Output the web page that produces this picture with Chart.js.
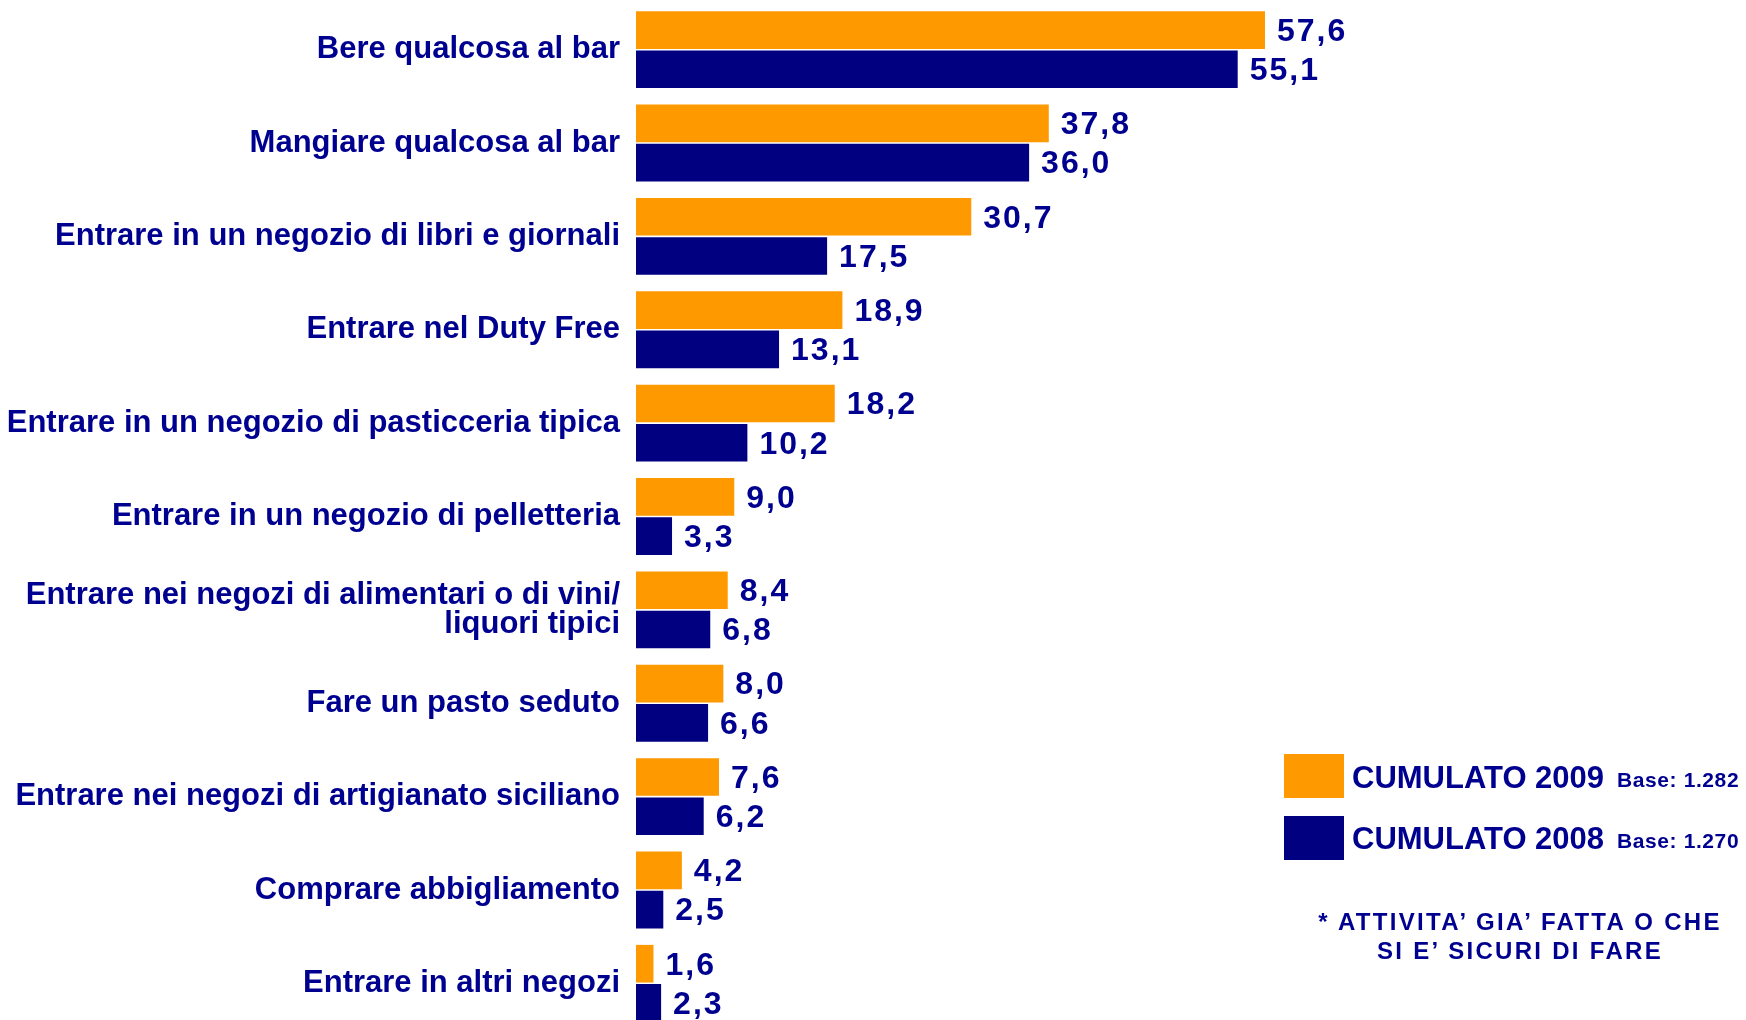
<!DOCTYPE html>
<html>
<head>
<meta charset="utf-8">
<script src="https://cdn.jsdelivr.net/npm/chart.js@4"></script>
<style>
  html, body { margin: 0; padding: 0; background: #fff; overflow: hidden; }
  #wrap { position: relative; width: 1746px; height: 1035px; }
  .txt { position: absolute; color: #000090; font-family: "Liberation Sans", Arial, sans-serif; font-weight: bold; white-space: nowrap; }
  .sw { position: absolute; width: 60px; height: 44px; }
</style>
</head>
<body>
<div id="wrap">
  <canvas id="chart"></canvas>
  <div class="sw" style="left:1284px; top:754px; background:#FF9900;"></div>
  <div class="sw" style="left:1284px; top:816px; background:#000080;"></div>
  <div class="txt" style="left:1352px; top:760px; font-size:31px;">CUMULATO 2009</div>
  <div class="txt" style="left:1617px; top:768px; font-size:21px; letter-spacing:0.6px;">Base: 1.282</div>
  <div class="txt" style="left:1352px; top:821px; font-size:31px;">CUMULATO 2008</div>
  <div class="txt" style="left:1617px; top:829px; font-size:21px; letter-spacing:0.6px;">Base: 1.270</div>
  <div class="txt" style="left:1300px; width:440px; top:907px; font-size:24px; letter-spacing:2.3px; text-align:center; line-height:29px;">* ATTIVITA&#8217; GIA&#8217; FATTA O CHE<br>SI E&#8217; SICURI DI FARE</div>
</div>
<script>
const categories = [
  'Bere qualcosa al bar',
  'Mangiare qualcosa al bar',
  'Entrare in un negozio di libri e giornali',
  'Entrare nel Duty Free',
  'Entrare in un negozio di pasticceria tipica',
  'Entrare in un negozio di pelletteria',
  ['Entrare nei negozi di alimentari o di vini/', 'liquori tipici'],
  'Fare un pasto seduto',
  'Entrare nei negozi di artigianato siciliano',
  'Comprare abbigliamento',
  'Entrare in altri negozi'
];
const values2009 = [57.6, 37.8, 30.7, 18.9, 18.2, 9.0, 8.4, 8.0, 7.6, 4.2, 1.6];
const values2008 = [55.1, 36.0, 17.5, 13.1, 10.2, 3.3, 6.8, 6.6, 6.2, 2.5, 2.3];

const textColor = '#000090';

// draws the numbers at the end of every bar
const valueLabels = {
  id: 'valueLabels',
  afterDatasetsDraw(chart) {
    const ctx = chart.ctx;
    ctx.save();
    ctx.font = 'bold 32px "Liberation Sans", Arial, sans-serif';
    ctx.letterSpacing = '2px';
    ctx.fillStyle = textColor;
    ctx.textAlign = 'left';
    ctx.textBaseline = 'middle';
    chart.data.datasets.forEach((ds, i) => {
      chart.getDatasetMeta(i).data.forEach((bar, j) => {
        const label = ds.data[j].toFixed(1).replace('.', ',');
        ctx.fillText(label, bar.x + 12, bar.y + 2);
      });
    });
    ctx.restore();
  }
};

new Chart(document.getElementById('chart'), {
  type: 'bar',
  data: {
    labels: categories,
    datasets: [
      { label: 'CUMULATO 2009', data: values2009, backgroundColor: '#FF9900', barPercentage: 0.96, categoryPercentage: 0.84 },
      { label: 'CUMULATO 2008', data: values2008, backgroundColor: '#000080', barPercentage: 0.96, categoryPercentage: 0.84 }
    ]
  },
  options: {
    indexAxis: 'y',
    responsive: true,
    maintainAspectRatio: false,
    animation: false,
    layout: { padding: { top: 3, bottom: 5, right: 18, left: 0 } },
    plugins: {
      legend: { display: false },
      tooltip: { enabled: false }
    },
    scales: {
      x: {
        display: false,
        min: 0,
        max: 100
      },
      y: {
        grid: { display: false },
        border: { display: false },
        ticks: {
          color: textColor,
          padding: 8,
          font: { family: '"Liberation Sans", Arial, sans-serif', size: 31, weight: 'bold', lineHeight: 0.95 }
        },
        afterFit(scale) {
          scale.width = 636;
          scale.paddingTop = 0;
          scale.paddingBottom = 0;
        }
      }
    }
  },
  plugins: [valueLabels]
});
</script>
</body>
</html>
